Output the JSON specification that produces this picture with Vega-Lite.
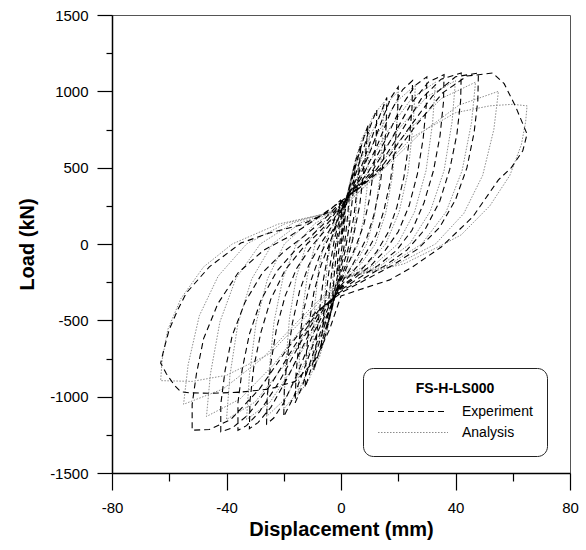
{
  "$schema": "https://vega.github.io/schema/vega-lite/v6.json",
  "width": 458,
  "height": 458,
  "autosize": "none",
  "padding": {"left": 112, "top": 15, "right": 16, "bottom": 77},
  "background": "white",
  "config": {
    "font": "Liberation Sans",
    "view": {"stroke": "#555", "strokeWidth": 1},
    "axis": {"grid": false, "domainColor": "#000", "domainWidth": 1.5, "tickColor": "#000", "tickWidth": 1.2, "labelColor": "#000", "titleColor": "#000", "labelFont": "Liberation Sans", "titleFont": "Liberation Sans", "labelFontSize": 15, "titleFontSize": 20, "titleFontWeight": "bold", "labelOverlap": false, "labelFlush": false}
  },
  "datasets": {
    "exp": [
      {"x":0,"y":0},
      {"x":0.8,"y":110},{"x":1.5,"y":190},{"x":1.1,"y":90},{"x":0.5,"y":0},{"x":0,"y":-60},{"x":-0.8,"y":-120},{"x":-1.5,"y":-200},{"x":-1.1,"y":-90},{"x":-0.5,"y":0},{"x":0,"y":60},
      {"x":0.8,"y":150},{"x":1.8,"y":250},{"x":3,"y":350},{"x":2.4,"y":200},{"x":1.5,"y":40},{"x":0.7,"y":-60},{"x":0,"y":-110},{"x":-1,"y":-190},{"x":-2,"y":-280},{"x":-3,"y":-370},{"x":-2.4,"y":-210},{"x":-1.5,"y":-40},{"x":-0.7,"y":60},{"x":0,"y":120},
      {"x":1,"y":200},{"x":2.5,"y":320},{"x":4,"y":450},{"x":5,"y":520},{"x":4.2,"y":330},{"x":3,"y":130},{"x":1.5,"y":-40},{"x":0,"y":-150},{"x":-1.2,"y":-260},{"x":-2.6,"y":-370},{"x":-4,"y":-480},{"x":-5,"y":-550},{"x":-4.2,"y":-350},{"x":-3,"y":-140},{"x":-1.5,"y":40},{"x":0,"y":160},
      {"x":1.3,"y":250},{"x":3,"y":380},{"x":5,"y":540},{"x":7,"y":650},{"x":6,"y":420},{"x":4.5,"y":180},{"x":2.5,"y":-30},{"x":0,"y":-190},{"x":-1.5,"y":-300},{"x":-3.5,"y":-450},{"x":-5.5,"y":-600},{"x":-7,"y":-690},{"x":-6,"y":-450},{"x":-4.3,"y":-190},{"x":-2.2,"y":40},{"x":0,"y":190},
      {"x":1.5,"y":280},{"x":3.5,"y":400},{"x":6,"y":570},{"x":8,"y":700},{"x":9.5,"y":780},{"x":8.3,"y":530},{"x":6.5,"y":250},{"x":4,"y":20},{"x":2,"y":-120},{"x":0,"y":-220},{"x":-2,"y":-340},{"x":-4.5,"y":-500},{"x":-7,"y":-660},{"x":-9.5,"y":-830},{"x":-8.3,"y":-560},{"x":-6.3,"y":-250},{"x":-3.8,"y":10},{"x":-1.8,"y":130},{"x":0,"y":210},
      {"x":2,"y":300},{"x":4.5,"y":420},{"x":7.5,"y":600},{"x":10,"y":760},{"x":12.5,"y":880},{"x":12.3,"y":700},{"x":11.5,"y":500},{"x":10,"y":300},{"x":8,"y":130},{"x":5.5,"y":0},{"x":3,"y":-110},{"x":0,"y":-240},{"x":-2.5,"y":-360},{"x":-5.5,"y":-520},{"x":-9,"y":-730},{"x":-12.5,"y":-940},{"x":-12.2,"y":-740},{"x":-11.2,"y":-530},{"x":-9.5,"y":-320},{"x":-7,"y":-140},{"x":-4.3,"y":-10},{"x":-2,"y":100},{"x":0,"y":220},
      {"x":2.5,"y":310},{"x":5.5,"y":430},{"x":9,"y":600},{"x":12.5,"y":790},{"x":16,"y":960},{"x":15.8,"y":780},{"x":15,"y":580},{"x":13.6,"y":380},{"x":11.5,"y":190},{"x":9,"y":40},{"x":6,"y":-70},{"x":3,"y":-170},{"x":0,"y":-260},{"x":-3,"y":-380},{"x":-6.5,"y":-540},{"x":-10.5,"y":-760},{"x":-13.5,"y":-930},{"x":-16,"y":-1040},{"x":-15.7,"y":-850},{"x":-14.7,"y":-640},{"x":-13,"y":-430},{"x":-10.5,"y":-240},{"x":-7.5,"y":-80},{"x":-4.3,"y":40},{"x":-1.8,"y":130},{"x":0,"y":235},
      {"x":3,"y":320},{"x":6.5,"y":440},{"x":10.5,"y":620},{"x":14.5,"y":820},{"x":17.5,"y":960},{"x":20,"y":1030},{"x":19.8,"y":850},{"x":18.9,"y":640},{"x":17.3,"y":420},{"x":15,"y":220},{"x":12.3,"y":60},{"x":9,"y":-50},{"x":5.5,"y":-150},{"x":2,"y":-230},{"x":0,"y":-270},{"x":-4,"y":-400},{"x":-8,"y":-570},{"x":-12.5,"y":-800},{"x":-16.5,"y":-1000},{"x":-20,"y":-1130},{"x":-19.8,"y":-950},{"x":-18.7,"y":-740},{"x":-17,"y":-520},{"x":-14.5,"y":-310},{"x":-11.3,"y":-140},{"x":-7.5,"y":-10},{"x":-4,"y":90},{"x":0,"y":245},
      {"x":3.5,"y":330},{"x":8,"y":460},{"x":13,"y":660},{"x":17.5,"y":870},{"x":21.5,"y":1010},{"x":25,"y":1070},{"x":24.8,"y":890},{"x":23.8,"y":670},{"x":22,"y":440},{"x":19.5,"y":240},{"x":16.3,"y":70},{"x":12.5,"y":-50},{"x":8,"y":-150},{"x":3.5,"y":-230},{"x":0,"y":-280},{"x":-5,"y":-410},{"x":-10,"y":-600},{"x":-15,"y":-840},{"x":-20,"y":-1040},{"x":-23.5,"y":-1140},{"x":-26,"y":-1180},{"x":-25.8,"y":-1000},{"x":-24.5,"y":-780},{"x":-22.5,"y":-550},{"x":-19.5,"y":-340},{"x":-15.5,"y":-160},{"x":-10.5,"y":-20},{"x":-6,"y":80},{"x":-2.5,"y":160},{"x":0,"y":255},
      {"x":4,"y":340},{"x":9.5,"y":470},{"x":15.5,"y":680},{"x":21,"y":900},{"x":26,"y":1040},{"x":30,"y":1095},{"x":29.8,"y":910},{"x":28.7,"y":690},{"x":26.7,"y":460},{"x":23.8,"y":250},{"x":20,"y":80},{"x":15.5,"y":-40},{"x":10.5,"y":-140},{"x":5,"y":-220},{"x":0,"y":-290},{"x":-6,"y":-420},{"x":-12,"y":-620},{"x":-18.5,"y":-870},{"x":-24.5,"y":-1070},{"x":-29,"y":-1170},{"x":-32,"y":-1210},{"x":-31.8,"y":-1030},{"x":-30.5,"y":-810},{"x":-28,"y":-580},{"x":-24.5,"y":-360},{"x":-19.5,"y":-170},{"x":-13.5,"y":-30},{"x":-8,"y":70},{"x":-3.5,"y":160},{"x":0,"y":265},
      {"x":4.5,"y":345},{"x":11,"y":480},{"x":18,"y":700},{"x":24.5,"y":920},{"x":30.5,"y":1060},{"x":36,"y":1110},{"x":35.8,"y":930},{"x":34.6,"y":710},{"x":32.3,"y":480},{"x":29,"y":270},{"x":24.8,"y":90},{"x":19.5,"y":-40},{"x":13,"y":-140},{"x":6.5,"y":-220},{"x":0,"y":-300},{"x":-7,"y":-430},{"x":-14,"y":-640},{"x":-21.5,"y":-900},{"x":-28.5,"y":-1100},{"x":-33,"y":-1190},{"x":-36,"y":-1220},{"x":-36,"y":-1040},{"x":-34.5,"y":-820},{"x":-32,"y":-590},{"x":-28,"y":-370},{"x":-22.5,"y":-180},{"x":-16,"y":-40},{"x":-10,"y":60},{"x":-4.5,"y":160},{"x":0,"y":270},
      {"x":5,"y":350},{"x":12.5,"y":490},{"x":20.5,"y":720},{"x":28,"y":950},{"x":35,"y":1080},{"x":42,"y":1120},{"x":41.8,"y":940},{"x":40.5,"y":720},{"x":38,"y":490},{"x":34.5,"y":280},{"x":29.5,"y":100},{"x":23,"y":-40},{"x":15.5,"y":-140},{"x":7.5,"y":-230},{"x":0,"y":-310},{"x":-8,"y":-440},{"x":-16,"y":-660},{"x":-24.5,"y":-920},{"x":-32.5,"y":-1120},{"x":-38,"y":-1205},{"x":-42,"y":-1230},{"x":-42,"y":-1050},{"x":-40.5,"y":-830},{"x":-38,"y":-600},{"x":-33.5,"y":-380},{"x":-27.5,"y":-190},{"x":-20,"y":-50},{"x":-13,"y":50},{"x":-6,"y":160},{"x":0,"y":275},
      {"x":5.5,"y":355},{"x":14,"y":500},{"x":23,"y":740},{"x":32,"y":970},{"x":40,"y":1095},{"x":48,"y":1120},{"x":47.8,"y":940},{"x":46.5,"y":730},{"x":44,"y":500},{"x":40,"y":290},{"x":34.5,"y":110},{"x":27,"y":-30},{"x":18,"y":-140},{"x":9,"y":-230},{"x":0,"y":-320},{"x":-9,"y":-450},{"x":-18.5,"y":-680},{"x":-28.5,"y":-950},{"x":-38.5,"y":-1150},{"x":-46,"y":-1215},{"x":-52,"y":-1220},{"x":-52,"y":-1050},{"x":-50.5,"y":-850},{"x":-48,"y":-620},{"x":-43,"y":-390},{"x":-36,"y":-190},{"x":-27,"y":-40},{"x":-18,"y":50},{"x":-9,"y":160},{"x":0,"y":280},
      {"x":6,"y":360},{"x":15.5,"y":510},{"x":25.5,"y":760},{"x":35.5,"y":990},{"x":44,"y":1100},{"x":53,"y":1120},{"x":57,"y":1050},{"x":61,"y":900},{"x":65,"y":720},{"x":63.5,"y":610},{"x":59.5,"y":500},{"x":55,"y":420},{"x":46,"y":177},{"x":35,"y":-20},{"x":25,"y":-150},{"x":17,"y":-235},{"x":8,"y":-290},{"x":0,"y":-340},{"x":-4,"y":-560},{"x":-9,"y":-760},{"x":-16,"y":-900},{"x":-25,"y":-950},{"x":-35,"y":-970},{"x":-45,"y":-978},{"x":-53,"y":-975},{"x":-56,"y":-968},{"x":-58,"y":-930},{"x":-61,"y":-850},{"x":-63,"y":-780},{"x":-62,"y":-700},{"x":-60,"y":-560},{"x":-57,"y":-430},{"x":-54,"y":-320},{"x":-46,"y":-150},{"x":-35,"y":6},{"x":-25,"y":72},{"x":-14,"y":125},{"x":-5,"y":203},{"x":0,"y":290}
    ],
    "ana": [
      {"x":0,"y":0},
      {"x":0.75,"y":150},{"x":1.5,"y":240},{"x":2.25,"y":300},{"x":3,"y":330},{"x":2.9,"y":250},{"x":2.7,"y":150},{"x":2.35,"y":65},{"x":1.8,"y":0},{"x":1.05,"y":-40},{"x":0,"y":-75},{"x":-0.75,"y":-155},{"x":-1.5,"y":-245},{"x":-2.25,"y":-305},{"x":-3,"y":-340},{"x":-2.9,"y":-255},{"x":-2.7,"y":-155},{"x":-2.35,"y":-70},{"x":-1.8,"y":0},{"x":-1.05,"y":40},{"x":0,"y":125},
      {"x":1.5,"y":255},{"x":3,"y":395},{"x":4.5,"y":505},{"x":6,"y":560},{"x":5.8,"y":420},{"x":5.4,"y":250},{"x":4.7,"y":110},{"x":3.6,"y":0},{"x":2.1,"y":-70},{"x":0,"y":-130},{"x":-1.5,"y":-265},{"x":-3,"y":-410},{"x":-4.5,"y":-520},{"x":-6,"y":-580},{"x":-5.8,"y":-435},{"x":-5.4,"y":-260},{"x":-4.7,"y":-115},{"x":-3.6,"y":0},{"x":-2.1,"y":70},{"x":0,"y":170},
      {"x":2.5,"y":350},{"x":5,"y":550},{"x":7.5,"y":700},{"x":10,"y":780},{"x":9.7,"y":585},{"x":9,"y":350},{"x":7.8,"y":155},{"x":6,"y":0},{"x":3.5,"y":-100},{"x":0,"y":-180},{"x":-2.5,"y":-370},{"x":-5,"y":-580},{"x":-7.5,"y":-740},{"x":-10,"y":-820},{"x":-9.7,"y":-615},{"x":-9,"y":-370},{"x":-7.8,"y":-165},{"x":-6,"y":0},{"x":-3.5,"y":100},{"x":0,"y":200},
      {"x":3.75,"y":420},{"x":7.5,"y":670},{"x":11.25,"y":840},{"x":15,"y":930},{"x":14.5,"y":700},{"x":13.5,"y":420},{"x":11.7,"y":185},{"x":9,"y":0},{"x":5.2,"y":-120},{"x":0,"y":-210},{"x":-3.75,"y":-450},{"x":-7.5,"y":-720},{"x":-11.25,"y":-890},{"x":-15,"y":-990},{"x":-14.5,"y":-740},{"x":-13.5,"y":-445},{"x":-11.7,"y":-200},{"x":-9,"y":0},{"x":-5.2,"y":120},{"x":0,"y":215},
      {"x":5,"y":450},{"x":10,"y":700},{"x":15,"y":900},{"x":20,"y":1000},{"x":19.4,"y":750},{"x":18,"y":450},{"x":15.6,"y":200},{"x":12,"y":0},{"x":7,"y":-130},{"x":0,"y":-225},{"x":-5,"y":-480},{"x":-10,"y":-760},{"x":-15,"y":-970},{"x":-20,"y":-1080},{"x":-19.4,"y":-810},{"x":-18,"y":-485},{"x":-15.6,"y":-215},{"x":-12,"y":0},{"x":-7,"y":130},{"x":0,"y":225},
      {"x":6.5,"y":470},{"x":13,"y":730},{"x":19.5,"y":935},{"x":26,"y":1040},{"x":25.2,"y":780},{"x":23.4,"y":470},{"x":20.3,"y":210},{"x":15.6,"y":0},{"x":9.1,"y":-135},{"x":0,"y":-230},{"x":-6.5,"y":-500},{"x":-13,"y":-790},{"x":-19.5,"y":-1015},{"x":-26,"y":-1130},{"x":-25.2,"y":-850},{"x":-23.4,"y":-510},{"x":-20.3,"y":-225},{"x":-15.6,"y":0},{"x":-9.1,"y":135},{"x":0,"y":230},
      {"x":8.25,"y":480},{"x":16.5,"y":745},{"x":24.75,"y":955},{"x":33,"y":1060},{"x":32,"y":795},{"x":29.7,"y":480},{"x":25.7,"y":210},{"x":19.8,"y":0},{"x":11.5,"y":-140},{"x":0,"y":-230},{"x":-8.25,"y":-510},{"x":-16.5,"y":-800},{"x":-24.75,"y":-1035},{"x":-33,"y":-1150},{"x":-32,"y":-860},{"x":-29.7,"y":-520},{"x":-25.7,"y":-230},{"x":-19.8,"y":0},{"x":-11.5,"y":140},{"x":0,"y":230},
      {"x":10,"y":485},{"x":20,"y":750},{"x":30,"y":965},{"x":40,"y":1070},{"x":38.8,"y":800},{"x":36,"y":480},{"x":31.2,"y":215},{"x":24,"y":0},{"x":14,"y":-140},{"x":0,"y":-230},{"x":-10,"y":-510},{"x":-20,"y":-800},{"x":-30,"y":-1035},{"x":-40,"y":-1150},{"x":-38.8,"y":-860},{"x":-36,"y":-520},{"x":-31.2,"y":-230},{"x":-24,"y":0},{"x":-14,"y":140},{"x":0,"y":230},
      {"x":11.75,"y":480},{"x":23.5,"y":745},{"x":35.25,"y":955},{"x":47,"y":1060},{"x":45.6,"y":795},{"x":42.3,"y":480},{"x":36.7,"y":210},{"x":28.2,"y":0},{"x":16.5,"y":-140},{"x":0,"y":-230},{"x":-11.75,"y":-505},{"x":-23.5,"y":-790},{"x":-35.25,"y":-1015},{"x":-47,"y":-1130},{"x":-45.6,"y":-850},{"x":-42.3,"y":-510},{"x":-36.7,"y":-225},{"x":-28.2,"y":0},{"x":-16.5,"y":140},{"x":0,"y":230},
      {"x":13.75,"y":470},{"x":27.5,"y":720},{"x":41.25,"y":910},{"x":55,"y":1000},{"x":53.4,"y":750},{"x":49.5,"y":450},{"x":42.9,"y":200},{"x":33,"y":0},{"x":19.3,"y":-135},{"x":0,"y":-225},{"x":-13.75,"y":-480},{"x":-27.5,"y":-750},{"x":-41.25,"y":-950},{"x":-55,"y":-1050},{"x":-53.4,"y":-790},{"x":-49.5,"y":-470},{"x":-42.9,"y":-210},{"x":-33,"y":0},{"x":-19.3,"y":135},{"x":0,"y":225},
      {"x":12,"y":450},{"x":25,"y":700},{"x":40,"y":860},{"x":52,"y":905},{"x":60,"y":915},{"x":65,"y":905},{"x":64.5,"y":800},{"x":63,"y":650},{"x":59,"y":450},{"x":52,"y":250},{"x":42,"y":60},{"x":36,"y":0},{"x":22,"y":-130},{"x":0,"y":-230},{"x":-12,"y":-470},{"x":-25,"y":-720},{"x":-40,"y":-860},{"x":-52,"y":-900},{"x":-63,"y":-895},{"x":-62.5,"y":-760},{"x":-60.5,"y":-560},{"x":-56,"y":-360},{"x":-48,"y":-150},{"x":-38,"y":0},{"x":-22,"y":130},{"x":0,"y":220}
    ]
  },
  "encoding": {
    "x": {"field": "x", "type": "quantitative", "scale": {"domain": [-80, 80], "nice": false, "zero": false},
      "axis": {"title": "Displacement (mm)", "values": [-80, -60, -40, -20, 0, 20, 40, 60, 80],
        "labelExpr": "datum.value % 40 === 0 ? '' + datum.value : ''",
        "tickSize": {"condition": {"test": "datum.value % 40 === 0", "value": 17}, "value": 8},
        "labelPadding": 10, "titlePadding": 4}},
    "y": {"field": "y", "type": "quantitative", "scale": {"domain": [-1500, 1500], "nice": false, "zero": false},
      "axis": {"title": "Load (kN)", "values": [-1500, -1250, -1000, -750, -500, -250, 0, 250, 500, 750, 1000, 1250, 1500],
        "labelExpr": "datum.value % 500 === 0 ? '' + datum.value : ''",
        "tickSize": {"condition": {"test": "datum.value % 500 === 0", "value": 15}, "value": 6},
        "labelPadding": 9, "titlePadding": 12}},
    "order": {"value": null}
  },
  "layer": [
    {
      "data": {"name": "ana"},
      "mark": {"type": "line", "strokeWidth": 1},
      "encoding": {
        "color": {"datum": "Analysis", "type": "nominal", "scale": {"domain": ["Experiment", "Analysis"], "range": ["#000000", "#8c8c8c"]},
          "legend": {"title": "FS-H-LS000", "orient": "none", "legendX": 251, "legendY": 353, "direction": "vertical", "symbolType": "stroke", "symbolSize": 4900, "symbolStrokeWidth": 1.2, "clipHeight": 19, "rowPadding": 2, "labelOffset": 13, "labelFontSize": 14, "labelFont": "Liberation Sans", "labelColor": "#000", "titleFontSize": 14, "titleFont": "Liberation Sans", "titleFontWeight": "bold", "titleColor": "#000", "titleAnchor": "middle", "titlePadding": 6, "padding": 14, "strokeColor": "#222", "fillColor": "white", "cornerRadius": 10}},
        "strokeDash": {"datum": "Analysis", "type": "nominal", "scale": {"domain": ["Experiment", "Analysis"], "range": [[6, 4], [1.5, 1.5]]},
          "legend": {"title": "FS-H-LS000", "orient": "none", "legendX": 251, "legendY": 353, "direction": "vertical", "symbolType": "stroke", "symbolSize": 4900, "symbolStrokeWidth": 1.2, "clipHeight": 19, "rowPadding": 2, "labelOffset": 13, "labelFontSize": 14, "labelFont": "Liberation Sans", "labelColor": "#000", "titleFontSize": 14, "titleFont": "Liberation Sans", "titleFontWeight": "bold", "titleColor": "#000", "titleAnchor": "middle", "titlePadding": 6, "padding": 14, "strokeColor": "#222", "fillColor": "white", "cornerRadius": 10}}
      }
    },
    {
      "data": {"name": "exp"},
      "mark": {"type": "line", "strokeWidth": 1.1},
      "encoding": {
        "color": {"datum": "Experiment", "type": "nominal"},
        "strokeDash": {"datum": "Experiment", "type": "nominal"}
      }
    }
  ]
}
